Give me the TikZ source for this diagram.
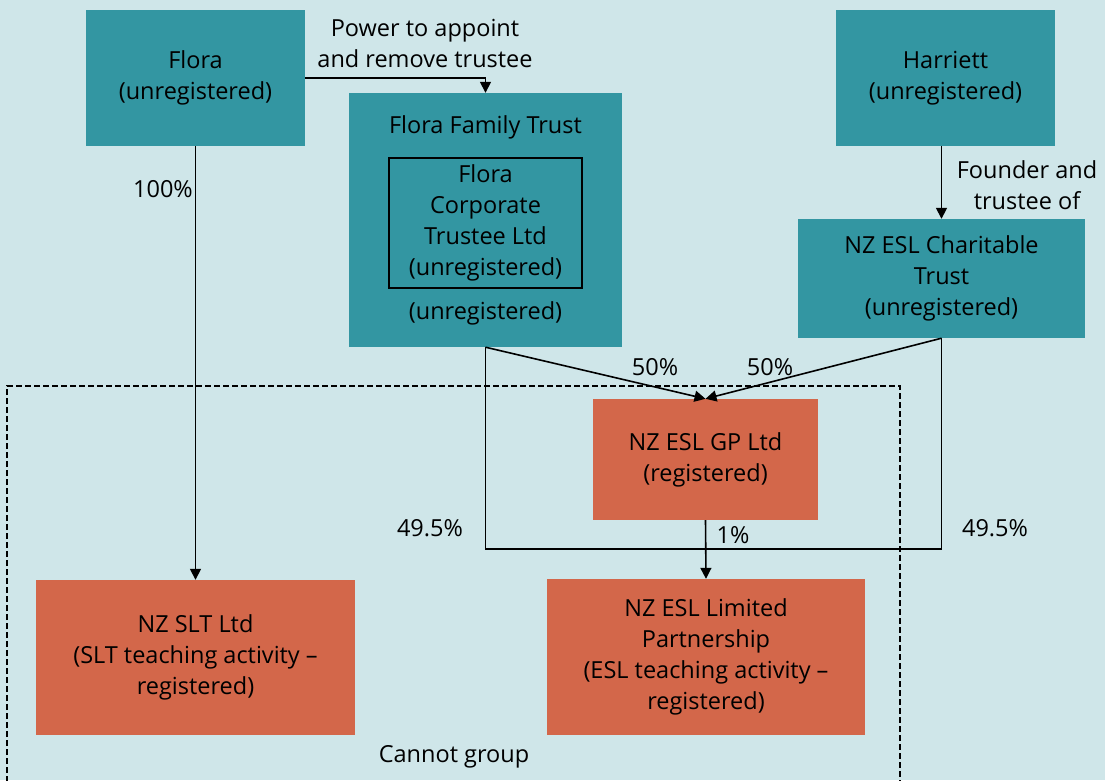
\documentclass[tikz,border=0pt]{standalone}
\usepackage{fontspec}
\setmainfont{Open Sans}
\usetikzlibrary{arrows.meta}
\definecolor{bgc}{HTML}{CFE6E9}
\definecolor{tealc}{HTML}{3396A2}
\definecolor{orangec}{HTML}{D3674A}
\begin{document}
\begin{tikzpicture}[x=1pt,y=-1pt,
  every node/.style={font=\fontsize{23.5}{31}\selectfont, align=center, inner sep=0pt},
  tbox/.style={fill=tealc, draw=none},
  obox/.style={fill=orangec, draw=none},
  conn/.style={line width=1.6pt, black},
  arr/.style={conn, -{Triangle[length=11pt,width=11pt]}},
  lbl/.style={text=black}
]
\useasboundingbox (0,0) rectangle (1105,780);
\clip (0,0) rectangle (1105,780);
\fill[bgc] (0,0) rectangle (1105,780);

% group boundary
\draw[line width=1.5pt, dash pattern=on 6pt off 3pt] (7,800) -- (7,386) -- (900,386) -- (900,800);
\node[lbl] (cannot) at (454,757) {Cannot group};

% top row
\node[tbox, minimum width=219pt, minimum height=136pt] (flora) at (195.5,78) {Flora\\(unregistered)};
\node[tbox, minimum width=219pt, minimum height=136pt] (harriett) at (945.5,78) {Harriett\\(unregistered)};

% family trust with its corporate trustee
\node[tbox, minimum width=273pt, minimum height=254pt] (fft) at (485.5,220) {};
\node[lbl] (ffttitle) at (485.5,127) {Flora Family Trust};
\node[draw=black, line width=1.5pt, fill=tealc, minimum width=193pt, minimum height=130pt] (corp) at (485.5,223) {Flora\\Corporate\\Trustee Ltd\\(unregistered)};
\node[lbl] (fftreg) at (485.5,313) {(unregistered)};

\node[tbox, minimum width=287pt, minimum height=119pt] (charity) at (941.5,278.5) {NZ ESL Charitable\\Trust\\(unregistered)};

% registered entities
\node[obox, minimum width=225pt, minimum height=121pt] (gp) at (705.5,459.5) {NZ ESL GP Ltd\\(registered)};
\node[obox, minimum width=319pt, minimum height=155pt] (slt) at (195.5,657.5) {NZ SLT Ltd\\(SLT teaching activity --\\registered)};
\node[obox, minimum width=318pt, minimum height=156pt] (lp) at (706,657) {NZ ESL Limited\\Partnership\\(ESL teaching activity --\\registered)};

% connectors
\draw[arr] (flora.east) -| (fft.north);
\node[lbl] (power) at (425,43) {Power to appoint\\and remove trustee};

\draw[arr] (flora.south) -- (slt.north);
\node[lbl] (p100) at (163,189) {100\%};

\draw[arr] (harriett.south -| charity.north) -- (charity.north);
\node[lbl] (founder) at (1027,185) {Founder and\\trustee of};

\draw[arr] (fft.south) -- (gp.north);
\draw[arr] (charity.south) -- (gp.north);
\node[lbl] (p50a) at (655,367) {50\%};
\node[lbl] (p50b) at (770,367) {50\%};

\coordinate (bus) at (706,549);
\draw[conn] (fft.south) |- (bus) -| (charity.south);
\node[lbl] (p495a) at (430,528) {49.5\%};
\node[lbl] (p495b) at (995,528) {49.5\%};

\draw[arr] (gp.south) -- (lp.north);
\node[lbl] (p1) at (733,535) {1\%};
\end{tikzpicture}
\end{document}
